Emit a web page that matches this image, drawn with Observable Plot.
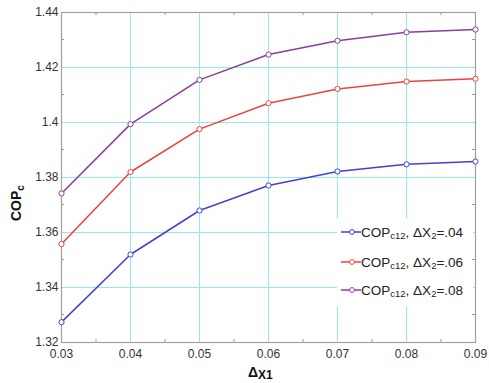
<!DOCTYPE html>
<html><head><meta charset="utf-8">
<script src="https://cdn.jsdelivr.net/npm/d3@7"></script>
<script src="https://cdn.jsdelivr.net/npm/@observablehq/plot@0.6"></script>
<style>
body{margin:0;background:#fff}
svg{font-family:"Liberation Sans",Arial,sans-serif}
</style>
</head><body><div id="chart"></div>
<script>
const dx1 = [0.03, 0.04, 0.05, 0.06, 0.07, 0.08, 0.09];
const cop04 = [1.3274, 1.352, 1.368, 1.3771, 1.3822, 1.3848, 1.3858];
const cop06 = [1.3558, 1.382, 1.3976, 1.407, 1.4122, 1.4149, 1.4159];
const cop08 = [1.3742, 1.3994, 1.4155, 1.4247, 1.4297, 1.4328, 1.4338];
const seriesLabels = [".04", ".06", ".08"];
const seriesColors = ["#4141d4", "#e8443f", "#8c3c9c"];
const xTicks = [0.03, 0.04, 0.05, 0.06, 0.07, 0.08, 0.09];
const yTicks = [1.32, 1.34, 1.36, 1.38, 1.40, 1.42, 1.44];
const xGrid = [0.04, 0.05, 0.06, 0.07, 0.08];
const yGrid = [1.34, 1.36, 1.38, 1.40, 1.42];
const xMinor = [0.035, 0.045, 0.055, 0.065, 0.075, 0.085];
const yMinor = [1.33, 1.35, 1.37, 1.39, 1.41, 1.43];

const allSeries = [cop04, cop06, cop08];
const rows = [];
allSeries.forEach((vals, s) => vals.forEach((v, i) => rows.push({x: dx1[i], y: v, s: seriesLabels[s]})));

const W = 489, H = 383, mL = 61, mR = 14, mT = 12, mB = 41;
const innerH = H - mT - mB;

const chart = Plot.plot({
  width: W, height: H,
  marginLeft: mL, marginRight: mR, marginTop: mT, marginBottom: mB,
  style: {fontFamily: '"Liberation Sans", Arial, sans-serif', fontSize: "12px", color: "#333", background: "#fff"},
  x: {domain: [0.03, 0.09], label: null},
  y: {domain: [1.32, 1.44], label: null},
  color: {domain: seriesLabels, range: seriesColors},
  marks: [
    Plot.ruleX(xGrid, {stroke: "#96e8ec", strokeWidth: 1, strokeOpacity: 1}),
    Plot.ruleY(yGrid, {stroke: "#96e8ec", strokeWidth: 1, strokeOpacity: 1}),
    Plot.ruleX(xMinor, {stroke: "#999", insetTop: innerH - 3}),
    Plot.ruleX(xMinor, {stroke: "#999", insetBottom: innerH - 3}),
    Plot.frame({stroke: "#a0a0a0", strokeWidth: 1.2}),
    Plot.line(rows, {x: "x", y: "y", z: "s", stroke: "s", strokeWidth: 1.5}),
    Plot.dot(rows, {x: "x", y: "y", stroke: "s", fill: "white", r: 2.6, strokeWidth: 1}),
    Plot.axisX({ticks: xTicks, tickSize: 0, tickPadding: 7, tickFormat: d => d.toFixed(2), fontSize: 12, label: null}),
    Plot.axisY({ticks: yTicks, tickSize: 0, tickPadding: 3, tickFormat: d => String(+d.toFixed(2)), fontSize: 12, label: null})
  ]
});

const svg = d3.select(chart);
const ys = chart.scale("y");
const tickG = svg.append("g").attr("stroke", "#999");
yMinor.forEach(v => {
  const yy = ys.apply(v);
  tickG.append("line").attr("x1", mL).attr("x2", mL + 3).attr("y1", yy).attr("y2", yy);
  tickG.append("line").attr("x1", W - mR - 3).attr("x2", W - mR).attr("y1", yy).attr("y2", yy);
});

// legend with white background
const lineG = chart.querySelector('[aria-label="line"]');
const box = document.createElementNS("http://www.w3.org/2000/svg", "rect");
box.setAttribute("x", 337); box.setAttribute("y", 218);
box.setAttribute("width", 136); box.setAttribute("height", 88);
box.setAttribute("fill", "white");
chart.insertBefore(box, lineG);

const leg = svg.append("g").attr("text-anchor", "start");
const legY = [232, 262, 290];
seriesLabels.forEach((lab, i) => {
  const y = legY[i];
  leg.append("line").attr("x1", 341).attr("x2", 361).attr("y1", y).attr("y2", y)
    .attr("stroke", seriesColors[i]).attr("stroke-width", 1.5);
  leg.append("circle").attr("cx", 352).attr("cy", y).attr("r", 2.4)
    .attr("fill", "white").attr("stroke", seriesColors[i]);
  const t = leg.append("text").attr("x", 361).attr("y", y + 5)
    .attr("font-size", 13.5).attr("fill", "#222");
  t.append("tspan").text("COP");
  t.append("tspan").attr("font-size", 9.5).attr("dy", 2).text("c12");
  t.append("tspan").attr("dy", -2).text(", ΔX");
  t.append("tspan").attr("font-size", 9.5).attr("dy", 2).text("2");
  t.append("tspan").attr("dy", -2).text("=" + lab);
});

// axis titles
const yl = svg.append("text").attr("text-anchor", "start")
  .attr("transform", "translate(21,221) rotate(-90)")
  .attr("font-size", 14).attr("font-weight", "bold").attr("fill", "#111");
yl.append("tspan").text("COP");
yl.append("tspan").attr("font-size", 10).attr("dy", 3).text("c");

const xl = svg.append("text").attr("text-anchor", "start").attr("x", 248).attr("y", 377)
  .attr("font-size", 14).attr("font-weight", "bold").attr("fill", "#111");
xl.append("tspan").text("Δ");
xl.append("tspan").attr("font-size", 12).attr("dy", 2).text("X1");

document.getElementById("chart").appendChild(chart);
</script>
</body></html>
